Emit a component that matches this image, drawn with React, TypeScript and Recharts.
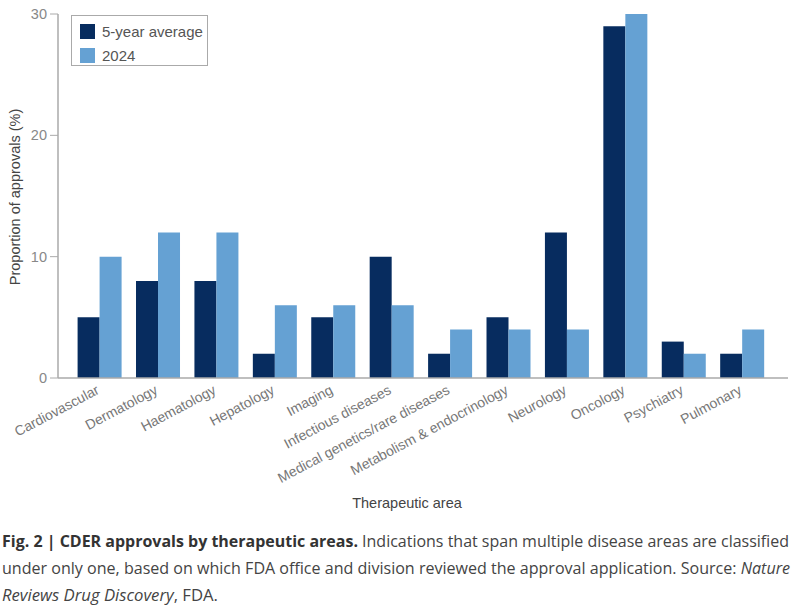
import React from "react";
import { BarChart, Bar, XAxis, YAxis } from "recharts";

const categories = [
  "Cardiovascular",
  "Dermatology",
  "Haematology",
  "Hepatology",
  "Imaging",
  "Infectious diseases",
  "Medical genetics/rare diseases",
  "Metabolism & endocrinology",
  "Neurology",
  "Oncology",
  "Psychiatry",
  "Pulmonary",
];
const fiveYearAverage = [5, 8, 8, 2, 5, 10, 2, 5, 12, 29, 3, 2];
const year2024 = [10, 12, 12, 6, 6, 6, 4, 4, 4, 30, 2, 4];
const yTicks = [0, 10, 20, 30];
const seriesNames = ["5-year average", "2024"];
const colors = ["#072c5f", "#65a1d3"];

const data = categories.map((c, i) => ({
  area: c,
  avg: fiveYearAverage[i],
  y2024: year2024[i],
}));

const FONT = "'Liberation Sans', Arial, sans-serif";

const XTick = (props: any) => {
  const { x, y, payload } = props;
  const ax = x + 1;
  const ay = y + 15;
  return (
    <text
      x={ax}
      y={ay}
      transform={`rotate(-28 ${ax} ${ay})`}
      textAnchor="end"
      fill="#777"
      fontSize={14}
      fontFamily={FONT}
    >
      {payload.value}
    </text>
  );
};

const LegendBox = () => (
  <div
    style={{
      position: "absolute",
      left: 71,
      top: 15,
      width: 137,
      height: 51,
      border: "1px solid #aaa",
      boxSizing: "border-box",
      fontFamily: FONT,
      fontSize: 15,
      color: "#555",
      padding: "6px 0 0 8px",
      background: "#fff",
    }}
  >
    {seriesNames.map((n, i) => (
      <div
        key={n}
        style={{ display: "flex", alignItems: "center", height: 19, marginBottom: 5 }}
      >
        <span
          style={{
            display: "inline-block",
            width: 15,
            height: 15,
            background: colors[i],
            marginRight: 7,
          }}
        />
        <span>{n}</span>
      </div>
    ))}
  </div>
);

export default function App() {
  return (
    <div
      style={{
        position: "absolute",
        left: 0,
        top: 0,
        width: 800,
        height: 614,
        background: "#fff",
        overflow: "hidden",
      }}
    >
      <BarChart
        width={800}
        height={520}
        data={data}
        margin={{ top: 14, right: 12, bottom: 22, left: 0 }}
        barCategoryGap="13%"
        barGap={0}
      >
        <XAxis
          dataKey="area"
          height={120}
          interval={0}
          tick={<XTick />}
          tickLine={false}
          tickSize={0}
          tickMargin={0}
          axisLine={{ stroke: "#aaa", strokeWidth: 1.5 }}
          padding={{ left: 12, right: 17 }}
        />
        <YAxis
          width={58}
          domain={[0, 30]}
          ticks={yTicks}
          tickSize={8}
          tickMargin={3}
          tick={{ fill: "#888", fontSize: 14.5, fontFamily: FONT }}
          tickLine={{ stroke: "#aaa" }}
          axisLine={{ stroke: "#aaa", strokeWidth: 1.5 }}
        />
        <Bar dataKey="avg" name={seriesNames[0]} fill={colors[0]} isAnimationActive={false} />
        <Bar dataKey="y2024" name={seriesNames[1]} fill={colors[1]} isAnimationActive={false} />
      </BarChart>
      <LegendBox />
      <div
        style={{
          position: "absolute",
          left: 15,
          top: 197,
          transform: "translate(-50%, -50%) rotate(-90deg)",
          whiteSpace: "nowrap",
          fontFamily: FONT,
          fontSize: 14.5,
          color: "#444",
        }}
      >
        Proportion of approvals (%)
      </div>
      <div
        style={{
          position: "absolute",
          left: 407,
          top: 503,
          transform: "translate(-50%, -50%)",
          whiteSpace: "nowrap",
          fontFamily: FONT,
          fontSize: 14.5,
          color: "#444",
        }}
      >
        Therapeutic area
      </div>
      <svg
        width={800}
        height={90}
        style={{ position: "absolute", left: 0, top: 524 }}
        fontFamily="'Open Sans', sans-serif"
        fontSize={16}
        fill="#444"
      >
        <text x={2} y={23} textLength={787} lengthAdjust="spacingAndGlyphs">
          <tspan fontWeight="bold" fill="#333">
            Fig. 2 | CDER approvals by therapeutic areas.
          </tspan>
          <tspan> Indications that span multiple disease areas are classified</tspan>
        </text>
        <text x={2} y={50} textLength={788} lengthAdjust="spacingAndGlyphs">
          under only one, based on which FDA office and division reviewed the approval application. Source:{" "}
          <tspan fontStyle="italic">Nature</tspan>
        </text>
        <text x={2} y={77} textLength={216} lengthAdjust="spacingAndGlyphs">
          <tspan fontStyle="italic">Reviews Drug Discovery</tspan>
          <tspan>, FDA.</tspan>
        </text>
      </svg>
    </div>
  );
}
